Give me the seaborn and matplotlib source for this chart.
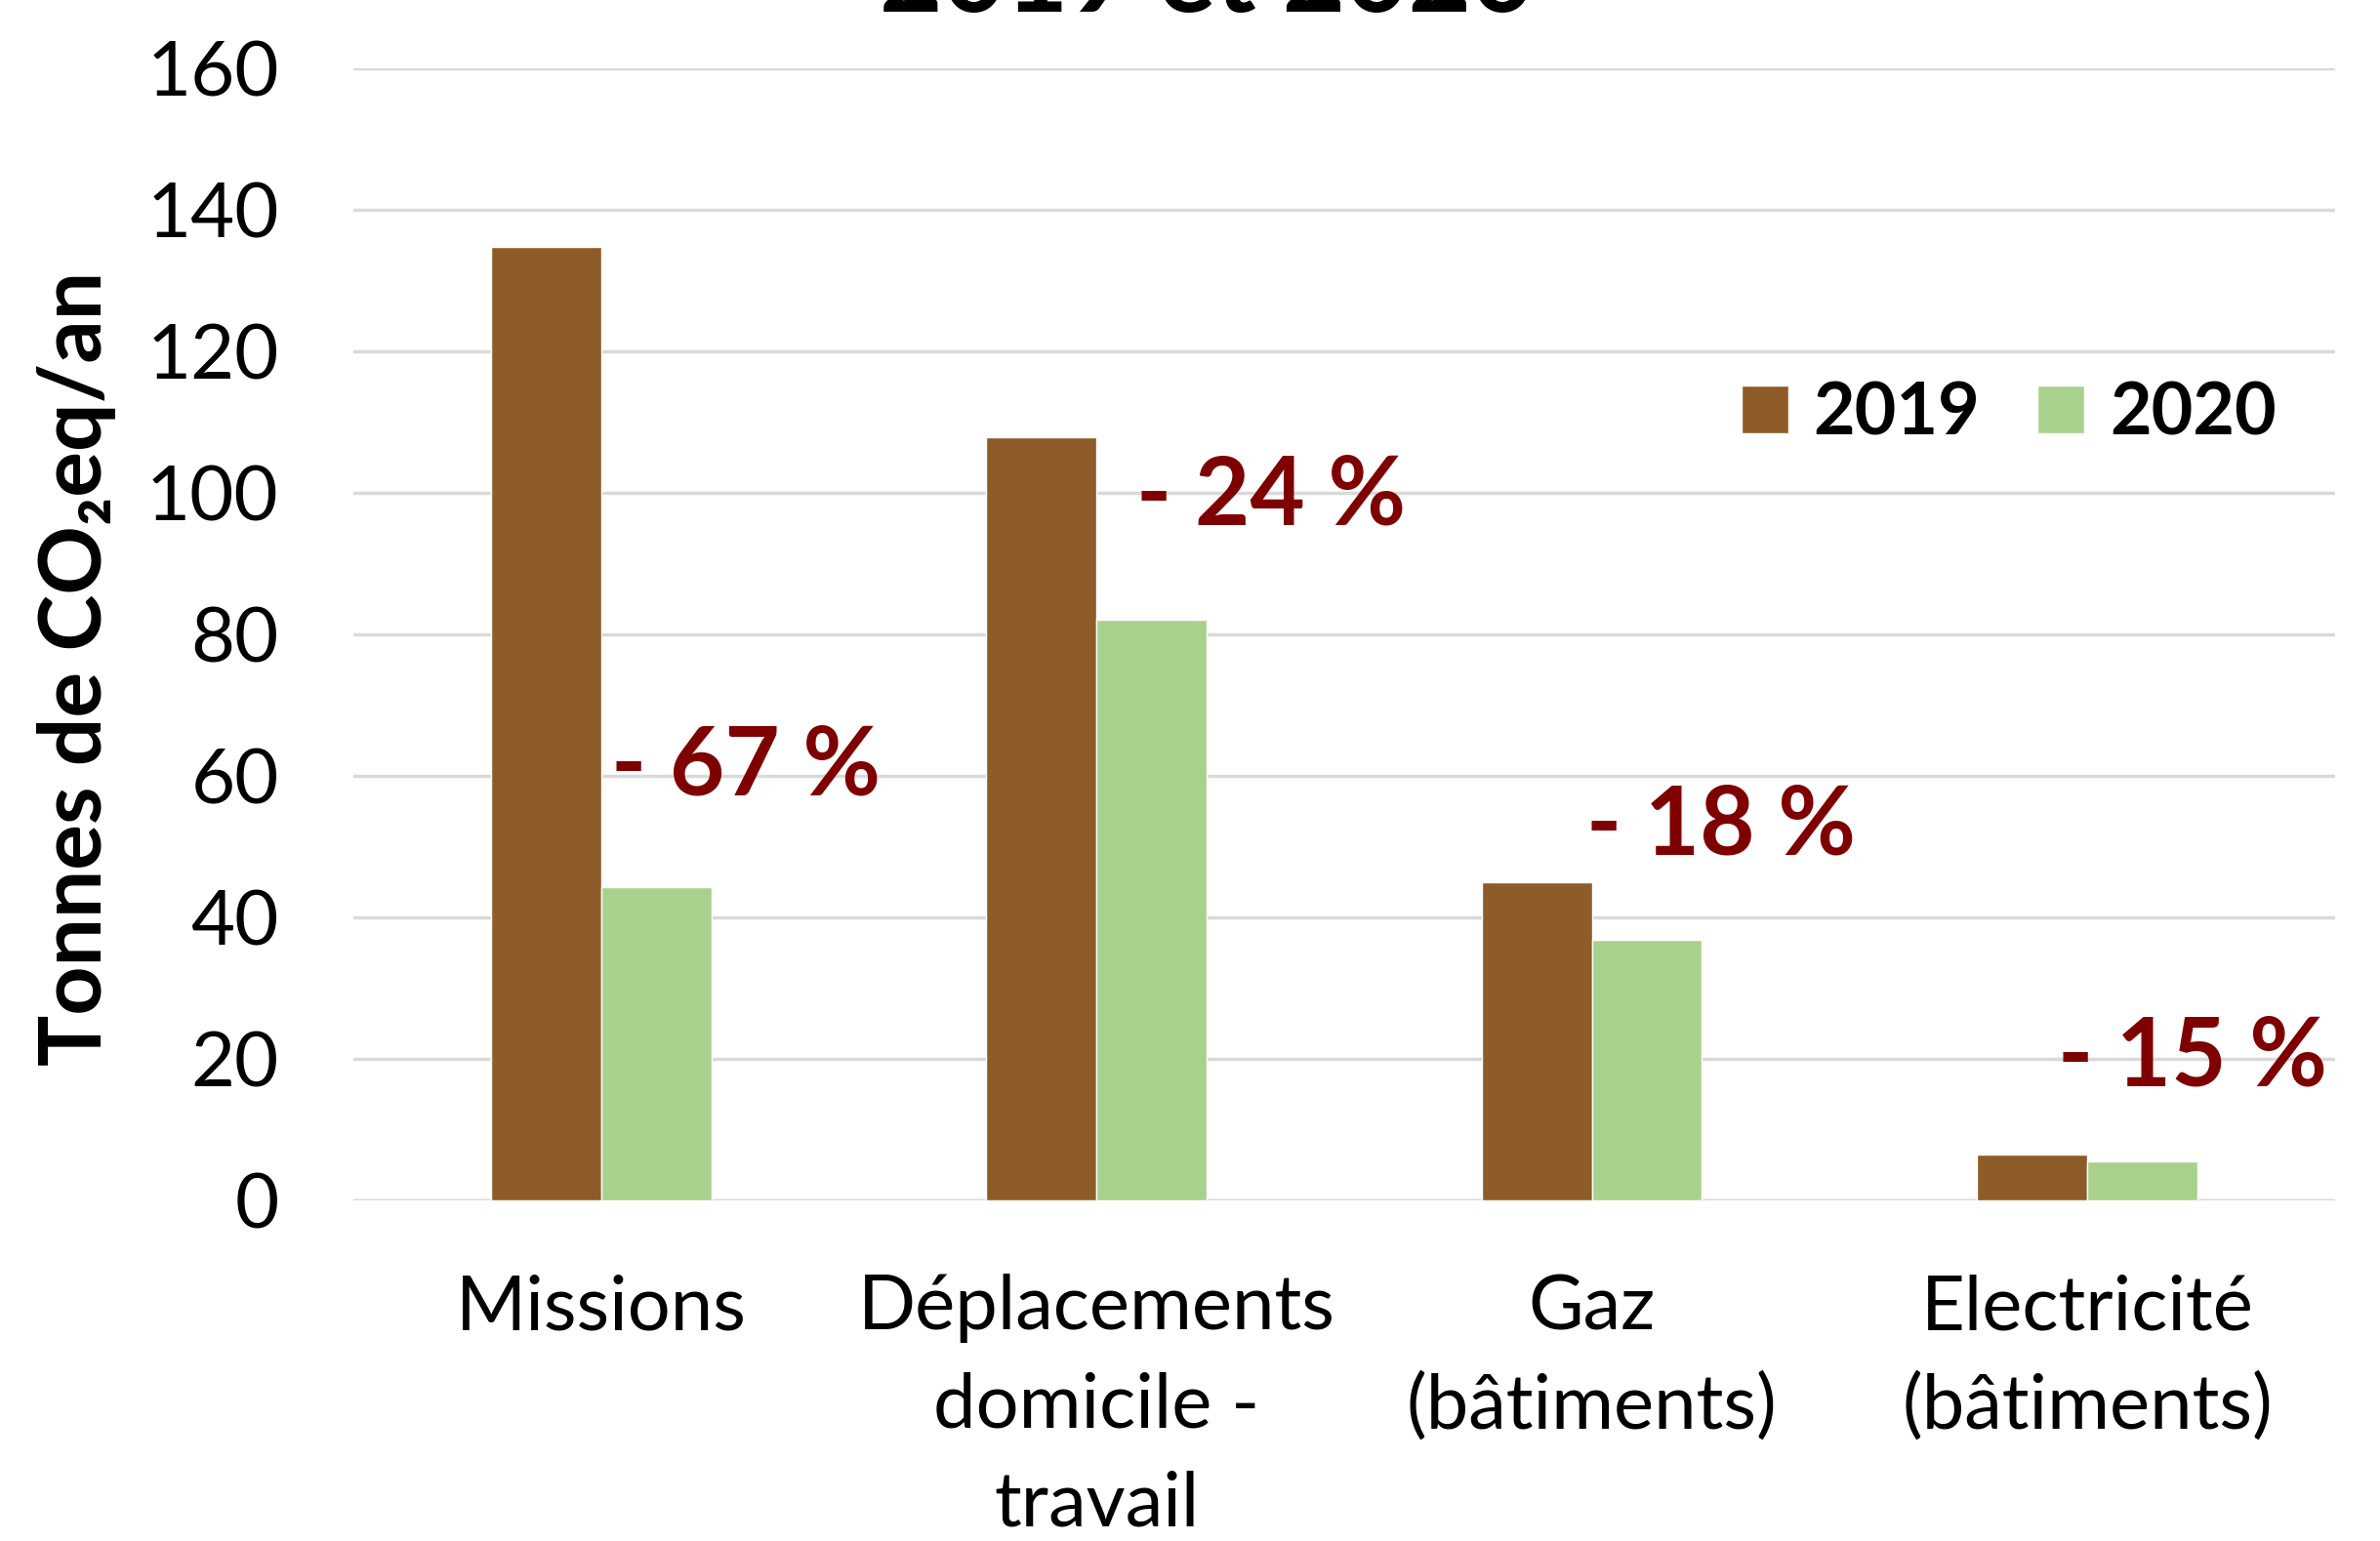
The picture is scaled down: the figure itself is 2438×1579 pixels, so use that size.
import matplotlib
matplotlib.use("Agg")
import matplotlib.pyplot as plt
import pandas as pd
import seaborn as sns

categories = ["Missions", "Déplacements\ndomicile -\ntravail", "Gaz\n(bâtiments)", "Electricité\n(bâtiments)"]
years = ["2019", "2020"]
values_2019 = [134.8, 107.8, 45.0, 6.5]
values_2020 = [44.3, 82.0, 36.8, 5.5]
changes = ["- 67 %", "- 24 %", "- 18 %", "- 15 %"]
# label anchor (x offset from category, y value)
change_x = [0.02, 1.08, 1.99, 2.94]
change_y = [61.3, 99.5, 52.8, 20.2]

colors = {"2019": "#8E5C29", "2020": "#A9D18E"}

df = pd.DataFrame({
    "categorie": categories * 2,
    "annee": [years[0]] * 4 + [years[1]] * 4,
    "valeur": values_2019 + values_2020,
})

sns.set_style("white")
plt.rcParams["font.family"] = ["Lato", "DejaVu Sans"]
plt.rcParams["text.color"] = "black"
plt.rcParams["xtick.color"] = "black"
plt.rcParams["ytick.color"] = "black"
plt.rcParams["axes.labelcolor"] = "black"

fig = plt.figure(figsize=(24.38, 15.79), dpi=100)
ax = fig.add_axes([0.1485, 0.221, 0.8325, 0.7347])

sns.barplot(data=df, x="categorie", y="valeur", hue="annee", palette=colors,
            width=0.445, saturation=1, ax=ax, legend=True)

ax.set_ylim(0, 160)
ax.set_xlim(-0.5, 3.5)
ax.set_yticks(range(0, 161, 20))
ax.yaxis.grid(True, color="#D9D9D9", linewidth=2.5)
ax.set_axisbelow(True)
for s in ["top", "right", "left", "bottom"]:
    ax.spines[s].set_visible(False)
ax.axhline(0, color="#D9D9D9", linewidth=2.5, zorder=0)
ax.tick_params(axis="both", length=0, labelsize=56)
ax.tick_params(axis="x", pad=54)
for lab in ax.get_xticklabels():
    lab.set_linespacing(1.52)
ax.tick_params(axis="y", pad=55)
ax.set_xlabel("")
ax.set_ylabel("Tonnes de CO₂eq/an", fontsize=63, fontweight="bold", labelpad=22, y=0.47)

for x, y, t in zip(change_x, change_y, changes):
    ax.text(x, y, t, color="#7F0000", fontsize=70, fontweight="bold", ha="left", va="center")

handles, labels = ax.get_legend_handles_labels()
ax.legend(handles, labels, loc="center left", bbox_to_anchor=(0.668, 0.695), ncol=2,
          frameon=False, prop={"size": 53, "weight": "bold"},
          handlelength=0.65, handleheight=0.65, handletextpad=0.35, columnspacing=0.8)

fig.text(0.507, 1 - 12 / 1579, "2019 et 2020", ha="center", va="baseline",
         fontsize=80, fontweight="bold")

fig.savefig("out.png", dpi=100)
